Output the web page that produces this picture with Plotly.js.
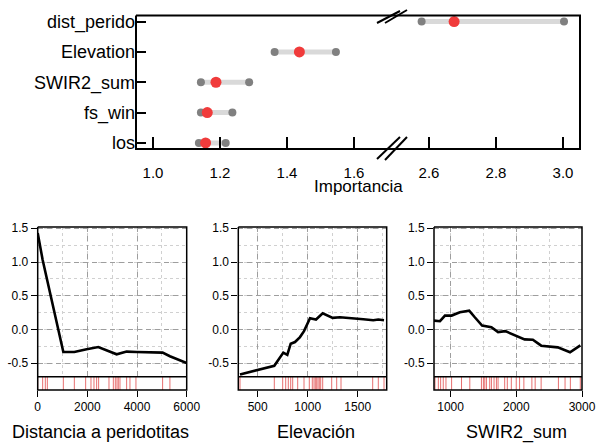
<!DOCTYPE html>
<html>
<head>
<meta charset="utf-8">
<script src="https://cdn.plot.ly/plotly-3.0.1.min.js"></script>
<style>
html,body{margin:0;padding:0;background:#fff;overflow:hidden;}
#chart{width:598px;height:443px;}
</style>
</head>
<body>
<div id="chart"></div>
<script>
// ---------- DATA ----------
const variables = ['dist_perido', 'Elevation', 'SWIR2_sum', 'fs_win', 'los'];
const impLow  = [2.578, 1.363, 1.143, 1.143, 1.137];
const impMean = [2.675, 1.437, 1.188, 1.162, 1.157];
const impHigh = [3.003, 1.546, 1.287, 1.237, 1.217];
const impTickVals1 = [1.0, 1.2, 1.4, 1.6];
const impTickText1 = ['1.0', '1.2', '1.4', '1.6'];
const impTickVals2 = [2.6, 2.8, 3.0];
const impTickText2 = ['2.6', '2.8', '3.0'];

const distX = [0, 200, 1032, 1475, 1970, 2440, 3179, 3581, 3984, 5030, 5324, 6000];
const distY = [1.43, 1.03, -0.334, -0.334, -0.294, -0.26, -0.368, -0.328, -0.334, -0.343, -0.397, -0.496];
const distRug = [0, 200, 307, 388, 1032, 1475, 1931, 2145, 2266, 2374, 2454, 2870, 3045, 3125, 3192, 3246, 3313, 3581, 3715, 3956, 5030, 5324, 6000];

const elevX = [323, 666, 756, 796, 830, 873, 923, 963, 1023, 1083, 1150, 1190, 1250, 1323, 1423, 1556, 1656, 1706, 1763];
const elevY = [-0.666, -0.539, -0.343, -0.377, -0.211, -0.186, -0.113, -0.025, 0.167, 0.147, 0.240, 0.211, 0.172, 0.181, 0.172, 0.152, 0.137, 0.147, 0.137];
const elevRug = [323, 666, 750, 780, 806, 830, 850, 900, 963, 1016, 1046, 1063, 1076, 1090, 1103, 1116, 1130, 1150, 1240, 1290, 1333, 1650, 1706, 1763];

const swirX = [747, 838, 914, 1015, 1141, 1283, 1368, 1479, 1621, 1722, 1833, 1974, 2126, 2252, 2379, 2631, 2818, 2975];
const swirY = [0.132, 0.123, 0.206, 0.206, 0.255, 0.279, 0.181, 0.059, 0.034, -0.039, -0.025, -0.088, -0.147, -0.152, -0.24, -0.265, -0.338, -0.235];
const swirRug = [762, 813, 848, 888, 929, 1015, 1166, 1292, 1469, 1499, 1520, 1545, 1595, 1621, 1661, 1697, 1722, 1823, 1863, 1924, 1999, 2050, 2115, 2237, 2287, 2378, 2641, 2742, 2823, 2974];

const pdpYTickVals = [-0.5, 0, 0.5, 1.0, 1.5];
const pdpYTickText = ['-0.5', '0.0', '0.5', '1.0', '1.5'];
const distTickVals = [0, 2000, 4000, 6000];
const distTickText = ['0', '2000', '4000', '6000'];
const elevTickVals = [500, 1000, 1500];
const elevTickText = ['500', '1000', '1500'];
const swirTickVals = [1000, 2000, 3000];
const swirTickText = ['1000', '2000', '3000'];

const pdpTitles = ['Distancia a peridotitas', 'Elevación', 'SWIR2_sum'];

// ---------- LAYOUT HELPERS ----------
const W = 598, H = 443;
const px = v => v / W;
const py = v => 1 - v / H;
const FONT = '"Liberation Sans", Arial, sans-serif';
const Y_MIN = -0.7, Y_MAX = 1.519;

// ---------- TRACES ----------
const traces = [];
['x', 'x2'].forEach(xa => {
  const lx = [], ly = [];
  variables.forEach((v, i) => { lx.push(impLow[i], impHigh[i], null); ly.push(v, v, null); });
  traces.push({type: 'scatter', mode: 'lines', x: lx, y: ly, xaxis: xa, yaxis: 'y',
    line: {color: '#d9d9d9', width: 5}, hoverinfo: 'skip', showlegend: false});
  traces.push({type: 'scatter', mode: 'markers', x: impLow.concat(impHigh), y: variables.concat(variables),
    xaxis: xa, yaxis: 'y', marker: {color: '#808080', size: 8}, hoverinfo: 'skip', showlegend: false});
  traces.push({type: 'scatter', mode: 'markers', x: impMean, y: variables,
    xaxis: xa, yaxis: 'y', marker: {color: '#f03b3b', size: 11}, hoverinfo: 'skip', showlegend: false});
});

const PANEL_TOP = 227, RUG_TOP = 376.7, PANEL_BOT = 390;
const panels = [
  {x: distX, y: distY, rug: distRug, dom: [37.7, 186.7], rng: [0, 6000], tv: distTickVals, tt: distTickText, minor: 1000,
   xm: 'x3', ym: 'y2', xr: 'x4', yr: 'y3'},
  {x: elevX, y: elevY, rug: elevRug, dom: [238.3, 386.7], rng: [306, 1790], tv: elevTickVals, tt: elevTickText, minor: 250,
   xm: 'x5', ym: 'y4', xr: 'x6', yr: 'y5'},
  {x: swirX, y: swirY, rug: swirRug, dom: [434, 582], rng: [747, 3000], tv: swirTickVals, tt: swirTickText, minor: 500,
   xm: 'x7', ym: 'y6', xr: 'x8', yr: 'y7'}
];
panels.forEach(p => {
  const rx = [], ry = [];
  p.rug.forEach(v => { rx.push(v, v, null); ry.push(0, 1, null); });
  traces.push({type: 'scatter', mode: 'lines', x: rx, y: ry, xaxis: p.xr, yaxis: p.yr,
    line: {color: '#e77070', width: 1}, hoverinfo: 'skip', showlegend: false});
  traces.push({type: 'scatter', mode: 'lines', x: p.x, y: p.y, xaxis: p.xm, yaxis: p.ym,
    line: {color: '#000', width: 2.6}, hoverinfo: 'skip', showlegend: false});
});

// ---------- FRAMES: drawn on a full-page overlay axis measured in page pixels ----------
const frameThick = {x: [], y: []}, frameThin = {x: [], y: []};
const addBox = (f, x0, y0, x1, y1) => {
  f.x.push(x0, x1, x1, x0, x0, null);
  f.y.push(y0, y0, y1, y1, y0, null);
};
addBox(frameThick, 136, 15.5, 580, 149);
panels.forEach(p => {
  addBox(frameThin, p.dom[0], PANEL_TOP, p.dom[1], PANEL_BOT);
  frameThin.x.push(p.dom[0], p.dom[1], null);
  frameThin.y.push(RUG_TOP, RUG_TOP, null);
});
traces.push({type: 'scatter', mode: 'lines', x: frameThick.x, y: frameThick.y, xaxis: 'x9', yaxis: 'y8',
  line: {color: '#000', width: 2}, hoverinfo: 'skip', showlegend: false, cliponaxis: false});
traces.push({type: 'scatter', mode: 'lines', x: frameThin.x, y: frameThin.y, xaxis: 'x9', yaxis: 'y8',
  line: {color: '#000', width: 1.5}, hoverinfo: 'skip', showlegend: false, cliponaxis: false});

// ---------- AXES ----------
const layout = {
  width: W, height: H, margin: {l: 0, r: 0, t: 0, b: 0},
  paper_bgcolor: '#fff', plot_bgcolor: 'rgba(0,0,0,0)', showlegend: false,
  font: {family: FONT, color: '#000'}
};

const topX = (dom, rng, tv, tt) => ({
  domain: dom, range: rng, anchor: 'y', tickmode: 'array', tickvals: tv, ticktext: tt,
  ticks: 'inside', ticklen: 12, tickwidth: 2, tickcolor: '#000',
  showgrid: false, zeroline: false, showline: false, fixedrange: true,
  ticklabelstandoff: 13,
  tickfont: {family: FONT, size: 15, color: '#000'}
});
layout.xaxis = topX([px(136), px(392)], [0.9493, 1.7134], impTickVals1, impTickText1);
layout.xaxis2 = topX([px(392), px(580)], [2.4896, 3.0507], impTickVals2, impTickText2);
layout.yaxis = {
  domain: [py(149), py(15.5)], type: 'category', categoryorder: 'array',
  categoryarray: variables.slice().reverse(), range: [-0.2, 4.2], anchor: 'x',
  ticks: 'inside', ticklen: 10, tickwidth: 2, tickcolor: '#000',
  showgrid: false, zeroline: false, showline: false, fixedrange: true,
  tickfont: {family: FONT, size: 18, color: '#000'}
};

const axName = id => id.replace('x', 'xaxis').replace('y', 'yaxis');
panels.forEach(p => {
  const dom = [px(p.dom[0]), px(p.dom[1])];
  layout[axName(p.xm)] = {
    domain: dom, range: p.rng, anchor: p.ym, tickmode: 'array', tickvals: p.tv, ticktext: p.tt,
    showticklabels: false, ticks: '', showline: false,
    showgrid: true, gridcolor: '#9e9e9e', gridwidth: 1, griddash: '5px,4px',
    minor: {dtick: p.minor, tick0: 0, showgrid: true, gridcolor: '#d0d0d0', gridwidth: 1, griddash: 'dot'},
    zeroline: false, fixedrange: true
  };
  layout[axName(p.ym)] = {
    domain: [py(RUG_TOP), py(PANEL_TOP)], range: [Y_MIN, Y_MAX], anchor: p.xm,
    tickmode: 'array', tickvals: pdpYTickVals, ticktext: pdpYTickText,
    ticks: 'outside', ticklen: 6, tickwidth: 1.3, tickcolor: '#000', showline: false,
    showgrid: true, gridcolor: '#9e9e9e', gridwidth: 1, griddash: '5px,4px',
    minor: {dtick: 0.25, tick0: 0, showgrid: true, gridcolor: '#d0d0d0', gridwidth: 1, griddash: 'dot'},
    zeroline: false, fixedrange: true,
    tickfont: {family: FONT, size: 12, color: '#000'}
  };
  layout[axName(p.xr)] = {
    domain: dom, range: p.rng, anchor: p.yr, tickmode: 'array', tickvals: p.tv, ticktext: p.tt,
    ticks: 'outside', ticklen: 6, tickwidth: 1.3, tickcolor: '#000', showline: false,
    showgrid: false, zeroline: false, fixedrange: true,
    tickfont: {family: FONT, size: 12, color: '#000'}
  };
  layout[axName(p.yr)] = {
    domain: [py(PANEL_BOT), py(RUG_TOP)], range: [0, 1], anchor: p.xr,
    showticklabels: false, ticks: '', showline: false,
    showgrid: false, zeroline: false, fixedrange: true
  };
});
// overlay axis in page pixels (for frames only)
layout.xaxis9 = {domain: [0, 1], range: [0, W], anchor: 'y8', visible: false, fixedrange: true};
layout.yaxis8 = {domain: [0, 1], range: [H, 0], anchor: 'x9', visible: false, fixedrange: true};

// axis-break marks
const seg = (x0, y0, x1, y1, w) => ({type: 'line', xref: 'paper', yref: 'paper',
  x0: px(x0), y0: py(y0), x1: px(x1), y1: py(y1), line: {color: '#000', width: w}});
layout.shapes = [
  seg(377, 23, 400, 11, 2), seg(385, 23, 407, 10, 2),
  seg(377, 159, 400, 137, 2), seg(385, 160, 407, 137, 2)
];

layout.annotations = [
  {text: 'Importancia', xref: 'paper', yref: 'paper', x: px(358), y: py(187), showarrow: false,
   xanchor: 'center', yanchor: 'middle', font: {family: FONT, size: 17, color: '#000'}}
];
const titleX = [100, 316, 516];
pdpTitles.forEach((t, i) => {
  layout.annotations.push({text: t, xref: 'paper', yref: 'paper', x: px(titleX[i]), y: py(432), showarrow: false,
    xanchor: 'center', yanchor: 'middle', font: {family: FONT, size: 18, color: '#000'}});
});

Plotly.newPlot('chart', traces, layout, {displayModeBar: false});
</script>
</body>
</html>
